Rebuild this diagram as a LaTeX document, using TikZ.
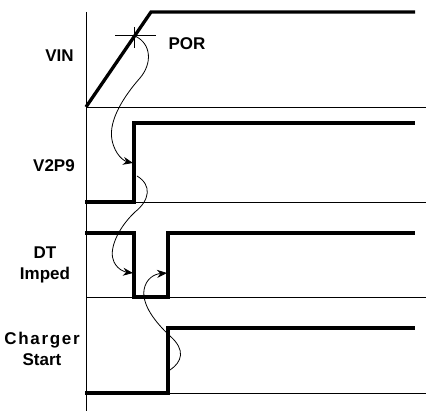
\documentclass[tikz,border=0pt]{standalone}
\usepackage{fontspec}
\setmainfont{Liberation Sans}
\usetikzlibrary{arrows.meta}
\begin{document}
\begin{tikzpicture}[x=1pt,y=-1pt,
  thin line/.style={line width=0.8pt},
  signal/.style={line width=3.3pt,line join=miter},
  cause/.style={line width=0.8pt,-{Stealth[length=10pt,width=8pt]}},
  lbl/.style={font=\fontsize{17}{21}\selectfont\bfseries,inner sep=0pt,align=center}]
\useasboundingbox (0,0) rectangle (426,411);
% axis and baselines
\coordinate (axT) at (86,12);
\coordinate (axB) at (86,411);
\draw[thin line] (axT) -- (axB);
\foreach \y/\n in {107/b1,202/b2,297/b3,393/b4}{
  \coordinate (\n L) at (86,\y);
  \coordinate (\n R) at (426,\y);
  \draw[thin line] (\n L) -- (\n R);
}
% VIN
\coordinate (vin0) at (86,107);
\coordinate (vin1) at (151,12);
\coordinate (vinE) at (415,12);
\draw[signal] (vin0) -- (vin1) -- (vinE);
% V2P9
\coordinate (v0) at (85,202);
\coordinate (v1) at (134,202);
\coordinate (v2) at (134,123);
\coordinate (vE) at (415,123);
\draw[signal] (v0) -- (v1) -- (v2) -- (vE);
% DT Imped
\coordinate (d0) at (85,233);
\coordinate (d1) at (134,233);
\coordinate (d2) at (134,297);
\coordinate (d3) at (168,297);
\coordinate (d4) at (168,233);
\coordinate (dE) at (415,233);
\draw[signal] (d0) -- (d1) -- (d2) -- (d3) -- (d4) -- (dE);
% Charger Start
\coordinate (c0) at (85,393);
\coordinate (c1) at (168,393);
\coordinate (c2) at (168,328);
\coordinate (cE) at (415,328);
\draw[signal] (c0) -- (c1) -- (c2) -- (cE);
% POR crosshair
\coordinate (por) at (135,36);
\coordinate (chL) at (115,35);
\coordinate (chR) at (156,35);
\coordinate (chT) at (134,27);
\coordinate (chB) at (134,48);
\draw[thin line] (chL) -- (chR);
\draw[thin line] (chT) -- (chB);
% labels
\node[lbl,anchor=base] (lvin) at (59.5,62) {VIN};
\node[lbl,anchor=base] (lv2p9) at (54,172) {V2P9};
\node[lbl,anchor=center] (ldt) at (45,265) {DT\\Imped};
\node[lbl,anchor=center] (lchg) at (42,349) {\addfontfeatures{LetterSpace=10}Charger\\Start};
\node[lbl,anchor=base] (lpor) at (187,50) {POR};
% cause arrows
\coordinate (a1) at (133,163);
\coordinate (s2) at (137,176);
\coordinate (a2) at (133,273);
\coordinate (s3) at (170,370);
\coordinate (a3) at (167,273);
\draw[cause] (por) .. controls (152,44) and (152,64) .. (140,78)
  .. controls (125,95) and (108,120) .. (112,140)
  .. controls (115,155) and (124,161) .. (a1);
\draw[cause] (s2) .. controls (152,185) and (150,200) .. (135,212)
  .. controls (118,228) and (108,250) .. (114,262)
  .. controls (118,270) and (125,272) .. (a2);
\draw[cause] (s3) .. controls (182,362) and (186,350) .. (170,336)
  .. controls (155,322) and (142,305) .. (144,290)
  .. controls (146,278) and (155,274) .. (a3);
\end{tikzpicture}
\end{document}
